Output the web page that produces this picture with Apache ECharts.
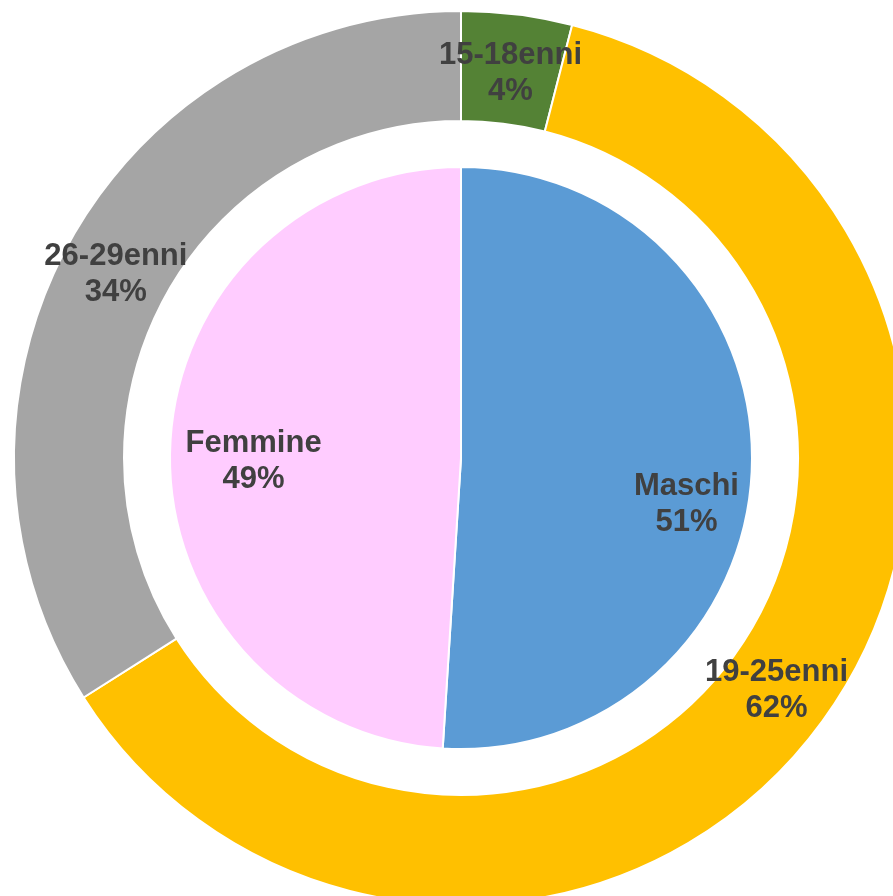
<!DOCTYPE html>
<html>
<head>
<meta charset="utf-8">
<script src="https://cdn.jsdelivr.net/npm/echarts@6/dist/echarts.min.js"></script>
<style>
html, body { margin: 0; padding: 0; background: #ffffff; }
#chart { width: 893px; height: 896px; }
</style>
</head>
<body>
<div id="chart"></div>
<script>
// genere (anello interno)
const sexNames = ['Maschi', 'Femmine'];
const sexValues = [51, 49];
const sexColors = ['#5B9BD5', '#FFCCFF'];
const sexOffsets = [[77, 42], [-59, 8]];

// età (anello esterno)
const ageNames = ['15-18enni', '19-25enni', '26-29enni'];
const ageValues = [4, 62, 34];
const ageColors = ['#548235', '#FFC000', '#A5A5A5'];
const ageOffsets = [[0, 7], [-4, 0], [1, 7]];

const labelStyle = {
    show: true,
    position: 'inside',
    formatter: '{b}\n{c}%',
    color: '#404040',
    fontFamily: 'Liberation Sans, Arial, sans-serif',
    fontWeight: 'bold',
    fontSize: 31,
    lineHeight: 36
};

const chart = echarts.init(document.getElementById('chart'));
chart.setOption({
    animation: false,
    backgroundColor: '#ffffff',
    series: [
        {
            name: 'Sesso',
            type: 'pie',
            center: [461, 458],
            radius: [0, 291],
            startAngle: 90,
            silent: true,
            itemStyle: { borderColor: '#ffffff', borderWidth: 2 },
            label: labelStyle,
            labelLine: { show: false },
            data: sexNames.map((n, i) => ({
                name: n,
                value: sexValues[i],
                itemStyle: { color: sexColors[i] },
                label: { offset: sexOffsets[i] }
            }))
        },
        {
            name: 'Età',
            type: 'pie',
            center: [461, 458],
            radius: [337, 447],
            startAngle: 90,
            silent: true,
            itemStyle: { borderColor: '#ffffff', borderWidth: 2 },
            label: labelStyle,
            labelLine: { show: false },
            data: ageNames.map((n, i) => ({
                name: n,
                value: ageValues[i],
                itemStyle: { color: ageColors[i] },
                label: { offset: ageOffsets[i] }
            }))
        }
    ]
});
</script>
</body>
</html>
